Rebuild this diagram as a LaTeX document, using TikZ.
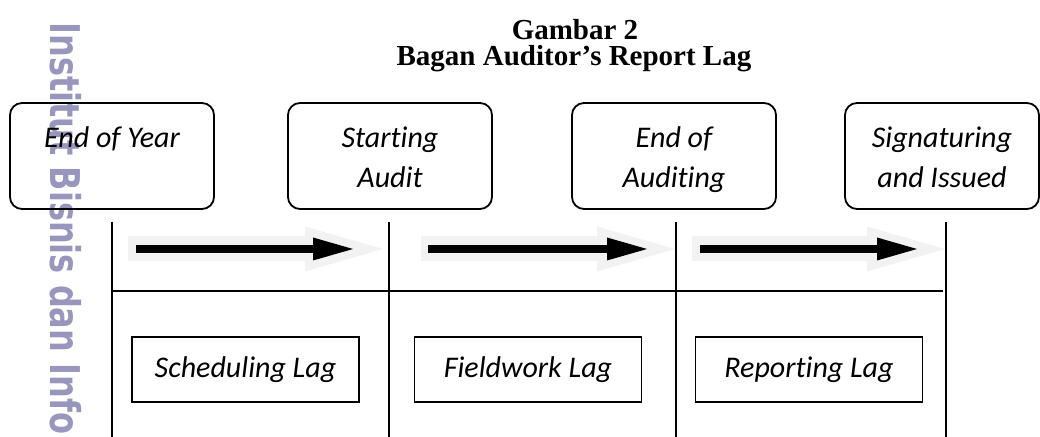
\documentclass[tikz,border=0pt]{standalone}
\usepackage{fontspec}
\usepackage{graphicx}
\setmainfont{Liberation Serif}
\newfontfamily\calib[Ligatures=NoCommon]{Carlito}
\newfontfamily\wmfont{DejaVu Sans}
\usepackage{tikz}
\usetikzlibrary{arrows.meta,positioning}

\definecolor{wmark}{RGB}{152,150,188}
\definecolor{shade}{RGB}{242,242,242}
\newcommand\evstrut{\rule[-4pt]{0pt}{20pt}}

\begin{document}
\begin{tikzpicture}[x=0.5pt, y=-0.5pt]
    \useasboundingbox (0,0) rectangle (1040,437);

    % Style for nodes
    \tikzset{
        eventnode/.style={draw, rounded corners=6pt, line width=0.9pt, minimum width=102pt, minimum height=53pt, inner sep=0pt, align=center, font=\calib\itshape\fontsize{15}{20}\selectfont},
        lagnode/.style={draw, line width=0.8pt, minimum width=113.5pt, minimum height=32.5pt, inner sep=0pt, font=\calib\itshape\fontsize{15}{18}\selectfont},
        shadearrow/.style={draw=shade, line width=12.5pt, -{Triangle[length=39pt, width=22.5pt, line width=0pt]}},
        mainarrow/.style={draw=black, line width=4pt, -{Triangle[length=20pt, width=11.5pt, line width=0pt]}},
        gridline/.style={line width=0.8pt}
    }

    % --- WATERMARK ---
    \node[anchor=base west, rotate=-90, inner sep=0pt, text=wmark, font=\wmfont\bfseries\fontsize{20.5}{24}\selectfont] (wm) at (50,22) {\scalebox{0.78}[1]{Institut Bisnis dan Info}};

    % --- TITLE ---
    \node[anchor=base, font=\bfseries\fontsize{14.5}{17}\selectfont] (title1) at (575,40) {Gambar 2};
    \node[anchor=base, font=\bfseries\fontsize{14.5}{17}\selectfont] (title2) at (574,66) {Bagan Auditor’s Report Lag};

    % --- EVENT BOXES ---
    \node[eventnode] (e1) at (112,156) {\evstrut End of Year\\\evstrut};
    \node[eventnode] (e2) at (390,156) {\evstrut Starting\\Audit\evstrut};
    \node[eventnode] (e3) at (674,156) {\evstrut End of\\Auditing\evstrut};
    \node[eventnode, minimum width=97pt] (e4) at (942,156) {\evstrut Signaturing\\and Issued\evstrut};

    % --- GRID LINES ---
    \foreach \i/\x in {1/112, 2/389, 3/676, 4/946} {
        \coordinate (t\i) at (\x,222);
        \coordinate (b\i) at (\x,437);
        \draw[gridline] (t\i) -- (b\i);
    }
    \coordinate (h1) at (112,291);
    \coordinate (h2) at (943,291);
    \draw[line width=0.7pt] (h1) -- (h2);

    % --- ARROWS ---
    % shade arrow first, black arrow on top
    \foreach \i/\gs/\gt/\bs/\bt in {1/128/383/136/353, 2/421/675/428/647, 3/692/945/700/917} {
        \coordinate (gs\i) at (\gs,249);
        \coordinate (gt\i) at (\gt,249);
        \coordinate (bs\i) at (\bs,249);
        \coordinate (bt\i) at (\bt,249);
        \draw[shadearrow] (gs\i) -- (gt\i);
        \draw[mainarrow] (bs\i) -- (bt\i);
    }

    % --- LAG BOXES ---
    \node[lagnode] (l1) at (245.5,369.5) {Scheduling Lag};
    \node[lagnode] (l2) at (528,369.5) {Fieldwork Lag};
    \node[lagnode] (l3) at (809,369.5) {Reporting Lag};

\end{tikzpicture}
\end{document}
